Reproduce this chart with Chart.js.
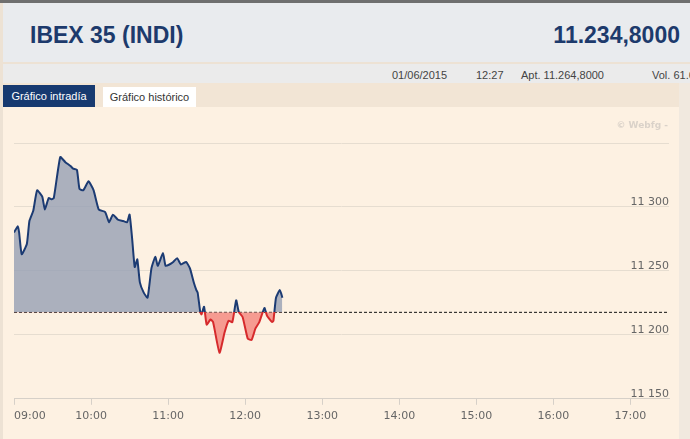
<!DOCTYPE html>
<html>
<head>
<meta charset="utf-8">
<script src="https://cdn.jsdelivr.net/npm/chart.js@4.4.1/dist/chart.umd.min.js"></script>
<style>
  body { margin: 0; width: 690px; height: 439px; overflow: hidden; background: #ede2d4; position: relative; font-family: 'Liberation Sans', Arial, sans-serif; }
  .abs { position: absolute; white-space: nowrap; }
  #topbar { left: 0; top: 0; width: 690px; height: 3px; background: #6f6f6f; }
  #header { left: 3px; top: 3px; width: 687px; height: 59px; background: #e9ebee; }
  #title { left: 30px; top: 24px; font-size: 23px; line-height: 22px; font-weight: bold; color: #1d3a6c; }
  #price { right: 10px; top: 24px; font-size: 23px; line-height: 22px; font-weight: bold; color: #1d3a6c; }
  #info { left: 3px; top: 64px; width: 687px; height: 19px; background: #ebebeb; }
  .info { top: 68px; font-size: 11px; line-height: 14px; color: #444; }
  #tabrow { left: 3px; top: 83px; width: 687px; height: 24px; background: #f2e5d5; }
  #tab1 { left: 3px; top: 85px; width: 92px; height: 22px; background: #173a70; color: #fff; font-size: 11px; line-height: 22px; text-align: center; }
  #tab2 { left: 103px; top: 87px; width: 93px; height: 20px; background: #fff; color: #333; font-size: 11px; line-height: 20px; text-align: center; }
  #panel { left: 3px; top: 107px; width: 676px; height: 332px; background: #fdf1e2; }
  #rightstrip { left: 679px; top: 83px; width: 11px; height: 356px; background: #f1e9df; }
  #webfg { right: 22px; top: 120px; font-family: 'DejaVu Sans', sans-serif; font-size: 9px; font-weight: bold; color: #dad2c9; }
</style>
</head>
<body>
<div class="abs" id="topbar"></div>
<div class="abs" id="header"></div>
<div class="abs" id="title">IBEX 35 (INDI)</div>
<div class="abs" id="price">11.234,8000</div>
<div class="abs" id="info"></div>
<div class="abs info" style="left:392px">01/06/2015</div>
<div class="abs info" style="left:476px">12:27</div>
<div class="abs info" style="left:521px">Apt. 11.264,8000</div>
<div class="abs info" style="left:652px">Vol. 61.6</div>
<div class="abs" id="tabrow"></div>
<div class="abs" id="rightstrip"></div>
<div class="abs" id="tab1">Gráfico intradía</div>
<div class="abs" id="tab2">Gráfico histórico</div>
<div class="abs" id="panel"><canvas id="chart" width="676" height="332"></canvas></div>
<div class="abs" id="webfg">© Webfg -</div>

<script>
// minutes after 09:00
const minutes = [0, 3, 4, 6, 10, 12, 15, 18, 22, 24, 27, 29, 31, 36, 40, 44, 46, 49, 51, 54, 58, 62, 66, 71, 74, 77, 81, 85, 88, 90,
  92, 94, 96, 98, 101, 104, 107, 110, 112, 116, 118, 121, 124, 127, 130, 134, 137, 140, 142, 143, 145, 146, 148, 150, 153, 155,
  160, 164, 167, 170, 173, 175, 178, 182, 185, 188, 191, 195, 197, 201, 202, 204, 207, 209];
const prices = [11280, 11285, 11280, 11263, 11271, 11289, 11297, 11313, 11308, 11298, 11307, 11306, 11307, 11339, 11335, 11332, 11330, 11329, 11314, 11313,
  11320, 11313, 11298, 11296, 11288, 11294, 11290, 11289, 11288, 11294,
  11275, 11253, 11259, 11241, 11233, 11229, 11252, 11261, 11254, 11264, 11254, 11255, 11257, 11260, 11255, 11257, 11252, 11241, 11235, 11233,
  11218, 11216, 11222, 11208, 11212, 11210, 11186, 11202, 11211, 11210, 11227, 11218, 11214, 11197, 11196, 11205, 11210, 11221, 11215, 11210,
  11211, 11229, 11235, 11229];
const prevClose = 11217.6;
const sessionEnd = 510; // 17:30
const hourTicks = [0, 60, 120, 180, 240, 300, 360, 420, 480];
const yTicks = [11150, 11200, 11250, 11300, 11350];

const navy = '#1c3b73';
const red = '#d62a2c';

function splitColor(context, top, bottom) {
    const chart = context.chart;
    const area = chart.chartArea;
    if (!area) return top;
    const y = chart.scales.y.getPixelForValue(prevClose);
    const stop = Math.min(1, Math.max(0, (y - area.top) / (area.bottom - area.top)));
    const g = chart.ctx.createLinearGradient(0, area.top, 0, area.bottom);
    g.addColorStop(0, top);
    g.addColorStop(stop, top);
    g.addColorStop(stop, bottom);
    g.addColorStop(1, bottom);
    return g;
}

function hhmm(v) {
    if (v === sessionEnd) return '';
    const h = 9 + Math.floor(v / 60);
    return (h < 10 ? '0' : '') + h + ':00';
}

const ctx = document.getElementById('chart').getContext('2d');
new Chart(ctx, {
    type: 'line',
    data: {
        datasets: [
            {
                data: minutes.map((m, i) => ({ x: m, y: prices[i] })),
                borderColor: c => splitColor(c, navy, red),
                borderWidth: 2,
                pointRadius: 0,
                tension: 0.15,
                fill: { target: { value: prevClose }, above: 'rgba(150,160,180,0.8)', below: 'rgba(245,140,130,0.85)' }
            },
            {
                data: [{ x: 0, y: prevClose }, { x: sessionEnd, y: prevClose }],
                borderColor: '#111',
                borderWidth: 1,
                borderDash: [3, 2],
                pointRadius: 0,
                fill: false
            }
        ]
    },
    options: {
        responsive: false,
        animation: false,
        layout: { padding: { left: 11, top: 36, right: 10, bottom: 11 } },
        plugins: { legend: { display: false }, tooltip: { enabled: false } },
        scales: {
            x: {
                type: 'linear',
                min: 0,
                max: sessionEnd,
                // extra empty tick at 17:30 so 'inner' only pins the 09:00 label
                afterBuildTicks: s => { s.ticks = hourTicks.concat([sessionEnd]).map(v => ({ value: v })); },
                grid: {
                    drawOnChartArea: false,
                    tickLength: 6,
                    color: c => (c.tick && c.tick.value === sessionEnd) ? 'rgba(0,0,0,0)' : '#d6d0c8'
                },
                border: { color: '#d6d0c8' },
                ticks: {
                    align: 'inner',
                    padding: 5,
                    maxRotation: 0,
                    autoSkip: false,
                    color: '#666',
                    font: { family: 'DejaVu Sans', size: 11 },
                    callback: v => hhmm(v)
                }
            },
            y: {
                position: 'right',
                min: 11150,
                max: 11350,
                afterBuildTicks: s => { s.ticks = yTicks.map(v => ({ value: v })); },
                grid: { color: '#e6ddd0', drawTicks: false },
                border: { display: false },
                ticks: {
                    mirror: true,
                    padding: 0,
                    labelOffset: -5,
                    color: '#666',
                    font: { family: 'DejaVu Sans', size: 11 },
                    callback: v => v === 11350 ? '' : String(v).slice(0, 2) + ' ' + String(v).slice(2)
                }
            }
        }
    }
});
</script>
</body>
</html>
